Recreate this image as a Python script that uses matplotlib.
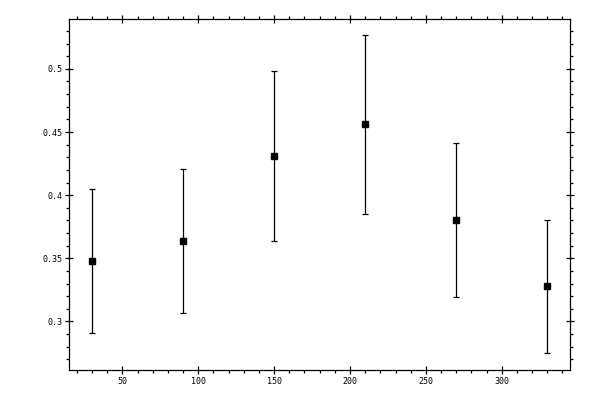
import matplotlib
matplotlib.use("Agg")
import matplotlib.pyplot as plt
from matplotlib.ticker import MultipleLocator
import numpy as np

# точки и границы интервалов
x = [30, 90, 150, 210, 270, 330]
y = [0.3476, 0.3635, 0.431, 0.4563, 0.380, 0.3278]
y_hi = [0.405, 0.421, 0.4987, 0.527, 0.4413, 0.380]
y_lo = [0.2905, 0.307, 0.3635, 0.3852, 0.319, 0.2746]

y = np.array(y)
err = [y - np.array(y_lo), np.array(y_hi) - y]

fig = plt.figure(figsize=(6, 4), dpi=100)
ax = fig.add_axes([0.1155, 0.075, 0.8345, 0.8775])

ax.errorbar(x, y, yerr=err, fmt='s', color='black', ms=5, lw=0.9,
            capsize=2, capthick=0.9, elinewidth=0.9)

ax.set_xlim(15, 345)
ax.set_ylim(0.2615, 0.5395)

ax.xaxis.set_major_locator(MultipleLocator(50))
ax.xaxis.set_minor_locator(MultipleLocator(10))
ax.yaxis.set_major_locator(MultipleLocator(0.05))
ax.yaxis.set_minor_locator(MultipleLocator(0.01))
ax.yaxis.set_major_formatter(plt.FuncFormatter(lambda v, p: ('%g' % round(v, 3))))

ax.tick_params(which='major', direction='inout', length=6, width=0.9,
               top=True, right=True, labelsize=6, pad=2)
ax.tick_params(which='minor', direction='out', length=2.5, width=0.9,
               top=True, right=True)
for t in ax.get_xticklabels() + ax.get_yticklabels():
    t.set_family('DejaVu Sans Mono')
for s in ax.spines.values():
    s.set_linewidth(0.9)

plt.savefig("out.png", dpi=100)
